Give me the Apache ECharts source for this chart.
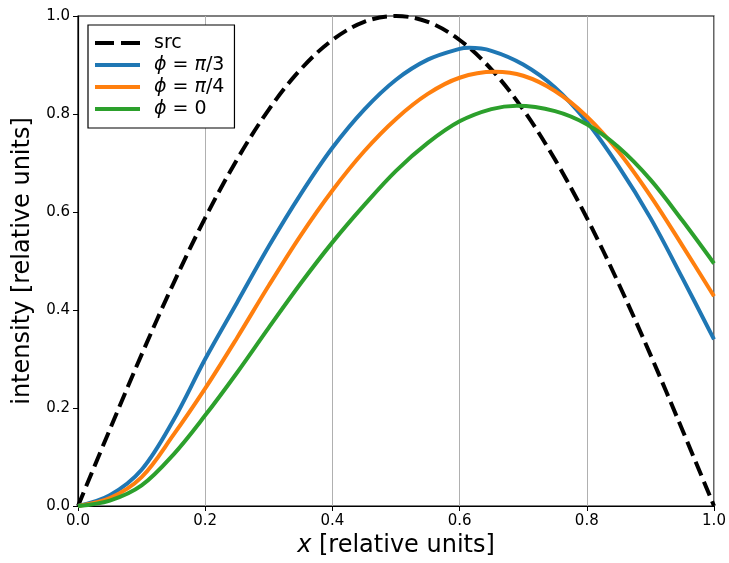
<!DOCTYPE html>
<html>
<head>
<meta charset="utf-8">
<script src="https://cdn.jsdelivr.net/npm/echarts@6/dist/echarts.min.js"></script>
<style>html,body{margin:0;padding:0;background:#fff}#c{width:729px;height:563px}</style>
</head>
<body>
<div id="c"></div>
<script>
const srcX = [0,0.05,0.1,0.15,0.2,0.25,0.3,0.35,0.4,0.45,0.5,0.55,0.6,0.65,0.7,0.75,0.8,0.85,0.9,0.95,1.0];
const srcValues = [0,0.156,0.309,0.454,0.588,0.707,0.809,0.891,0.951,0.988,1.0,0.988,0.951,0.891,0.809,0.707,0.588,0.454,0.309,0.156,0];
const phiPi3X = [0,0.05,0.1,0.15,0.2,0.25,0.3,0.35,0.4,0.45,0.5,0.55,0.6,0.615,0.65,0.7,0.75,0.8,0.85,0.9,0.95,1.0];
const phiPi3Values = [0,0.022,0.074,0.175,0.300,0.415,0.530,0.636,0.731,0.809,0.870,0.911,0.933,0.935,0.929,0.901,0.854,0.784,0.693,0.588,0.466,0.340];
const phiPi4X = [0,0.05,0.1,0.15,0.2,0.25,0.3,0.35,0.4,0.45,0.5,0.55,0.6,0.655,0.7,0.75,0.8,0.85,0.9,0.95,1.0];
const phiPi4Values = [0,0.016,0.059,0.145,0.240,0.343,0.450,0.552,0.644,0.724,0.790,0.841,0.874,0.886,0.878,0.847,0.795,0.723,0.633,0.532,0.428];
const phi0X = [0,0.05,0.1,0.15,0.2,0.25,0.3,0.35,0.4,0.45,0.5,0.55,0.6,0.65,0.69,0.75,0.8,0.85,0.9,0.95,1.0];
const phi0Values = [0,0.011,0.042,0.105,0.185,0.272,0.364,0.454,0.538,0.614,0.684,0.741,0.785,0.810,0.817,0.806,0.779,0.732,0.666,0.583,0.495];
const seriesNames = ['src','ϕ = π/3','ϕ = π/4','ϕ = 0'];
const legendLabels = ['src','{i|ϕ} = {i|π}/3','{i|ϕ} = {i|π}/4','{i|ϕ} = 0'];

const pairs = (xs, ys) => xs.map((x,i)=>[x, ys[i]]);
const chart = echarts.init(document.getElementById('c'), null, {renderer:'canvas'});
const font = 'DejaVu Sans';
const mkLine = (name, xs, ys, color, type) => ({
  name, type:'line', data: pairs(xs, ys), smooth: 0.35, symbol:'none', showSymbol:false,
  lineStyle:{color, width:4, type: type || 'solid'}, itemStyle:{color},
  emphasis:{disabled:true}, animation:false
});
const solidIcon = 'path://M0,0h45v4h-45z';
const dashIcon = 'path://M0,0h19v4h-19zM26,0h19v4h-19z';
chart.setOption({
  animation:false,
  backgroundColor:'#fff',
  grid:{left:78, right:15, top:16, bottom:55, show:true, borderColor:'#000', borderWidth:1.2, backgroundColor:'transparent'},
  legend:{
    left:88, top:25, orient:'vertical', itemGap:2, itemWidth:45, itemHeight:4,
    padding:[8,10,9,7], borderColor:'#000', borderWidth:1.2, borderRadius:0, backgroundColor:'#fff',
    data: seriesNames.map((n,i)=>({name:n, icon: i===0 ? dashIcon : solidIcon})),
    formatter: n => legendLabels[seriesNames.indexOf(n)],
    textStyle:{fontFamily:font, fontSize:19, lineHeight:20, color:'#000', padding:[0,0,0,9],
      rich:{i:{fontFamily:font, fontStyle:'italic', fontSize:19, lineHeight:20, color:'#000'}}}
  },
  xAxis:{
    type:'value', min:0, max:1, interval:0.2,
    name:'{i|x} [relative units]', nameLocation:'middle', nameGap:28,
    nameTextStyle:{fontFamily:font, fontSize:24, color:'#000', rich:{i:{fontFamily:font, fontStyle:'italic', fontSize:24, color:'#000'}}},
    axisLine:{show:true, lineStyle:{color:'#000', width:1.2}},
    axisTick:{show:true, length:5, lineStyle:{color:'#000'}},
    axisLabel:{fontFamily:font, fontSize:15, color:'#000', margin:8, formatter:v=>v.toFixed(1)},
    splitLine:{show:true, lineStyle:{color:'#b0b0b0', width:1}}
  },
  yAxis:{
    type:'value', min:0, max:1, interval:0.2,
    name:'intensity [relative units]', nameLocation:'middle', nameGap:43,
    nameTextStyle:{fontFamily:font, fontSize:24, color:'#000'},
    axisLine:{show:true, lineStyle:{color:'#000', width:1.2}},
    axisTick:{show:true, length:5, lineStyle:{color:'#000'}},
    axisLabel:{fontFamily:font, fontSize:15, color:'#000', margin:8, formatter:v=>v.toFixed(1)},
    splitLine:{show:false}
  },
  series:[
    mkLine(seriesNames[0], srcX, srcValues, '#000000', [15,6.5]),
    mkLine(seriesNames[1], phiPi3X, phiPi3Values, '#1f77b4'),
    mkLine(seriesNames[2], phiPi4X, phiPi4Values, '#ff7f0e'),
    mkLine(seriesNames[3], phi0X, phi0Values, '#2ca02c')
  ]
});
</script>
</body>
</html>
